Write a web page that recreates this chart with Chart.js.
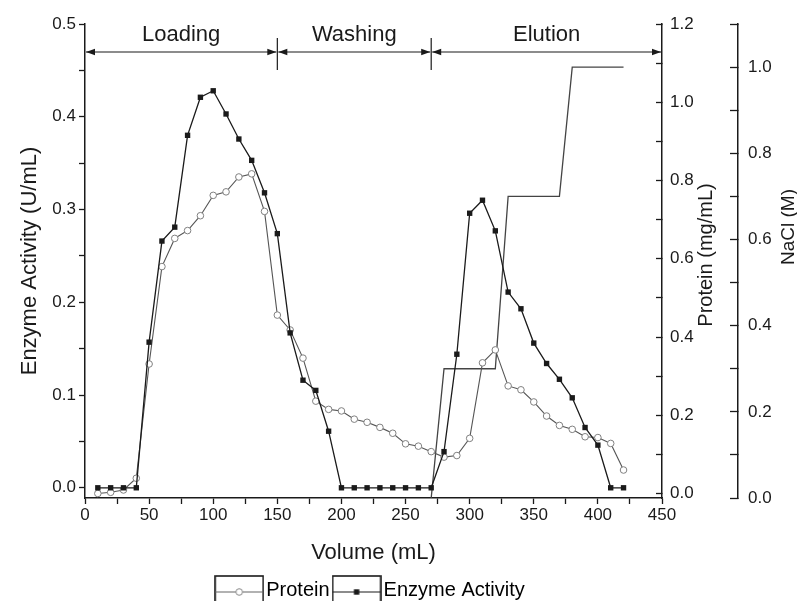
<!DOCTYPE html>
<html lang="en">
<head>
  <meta charset="UTF-8">
  <title>Enzyme Activity / Protein / NaCl vs Volume</title>
  <script src="https://cdn.jsdelivr.net/npm/chart.js@4.4.1/dist/chart.umd.min.js"></script>
  <style>
    html, body { margin: 0; padding: 0; background: #fff; }
    canvas { display: block; }
  </style>
</head>
<body>
  <canvas id="grafica" width="797" height="601"></canvas>

  <script>
    // fracciones recogidas (mL)
    const volumes = [10, 20, 30, 40, 50, 60, 70, 80, 90, 100, 110, 120, 130, 140,
                     150, 160, 170, 180, 190, 200, 210, 220, 230, 240, 250, 260, 270, 280,
                     290, 300, 310, 320, 330, 340, 350, 360, 370, 380, 390, 400, 410, 420];

    // actividad enzimática (U/mL), eje izquierdo
    const enzymeActivity = [0, 0, 0, 0, 0.157, 0.266, 0.281, 0.380, 0.421, 0.428, 0.403, 0.376, 0.353, 0.318,
                            0.274, 0.167, 0.116, 0.105, 0.061, 0, 0, 0, 0, 0, 0, 0, 0, 0.039,
                            0.144, 0.296, 0.310, 0.277, 0.211, 0.193, 0.156, 0.134, 0.117, 0.097, 0.065, 0.046, 0, 0];

    // proteína (mg/mL), primer eje derecho
    const protein = [0.0, 0.003, 0.009, 0.039, 0.331, 0.580, 0.652, 0.672, 0.710, 0.762, 0.771, 0.809, 0.817, 0.721,
                     0.456, 0.418, 0.346, 0.236, 0.215, 0.211, 0.190, 0.182, 0.169, 0.154, 0.127, 0.121, 0.107, 0.093,
                     0.097, 0.141, 0.334, 0.367, 0.275, 0.265, 0.234, 0.198, 0.174, 0.164, 0.145, 0.143, 0.128, 0.060];

    // gradiente escalonado de NaCl (M), segundo eje derecho
    const naclVolumes = [270, 280, 320, 330, 370, 380, 420];
    const naclConc = [0, 0.3, 0.3, 0.7, 0.7, 1.0, 1.0];

    // etapas de la cromatografía
    const phaseNames = ['Loading', 'Washing', 'Elution'];
    const phaseLimits = [0, 150, 270, 450];

    // marcas de los ejes (mayores con etiqueta, menores sin ella)
    const xMajor = [0, 50, 100, 150, 200, 250, 300, 350, 400, 450];
    const xMinor = [25, 75, 125, 175, 225, 275, 325, 375, 425];
    const enzMajor = [0, 0.1, 0.2, 0.3, 0.4, 0.5];
    const enzMinor = [0.05, 0.15, 0.25, 0.35, 0.45];
    const protMajor = [0, 0.2, 0.4, 0.6, 0.8, 1.0, 1.2];
    const protMinor = [0.1, 0.3, 0.5, 0.7, 0.9, 1.1];
    const naclMajor = [0, 0.2, 0.4, 0.6, 0.8, 1.0];
    const naclMinor = [0.1, 0.3, 0.5, 0.7, 0.9, 1.1];

    const legendNames = ['Protein', 'Enzyme Activity'];

    const INK = '#1a1a1a';
    const FONT = "'Liberation Sans', Arial, sans-serif";

    // pone las marcas a mano y sólo etiqueta las mayores
    function marcas(major, minor, decimals) {
      return {
        afterBuildTicks: scale => {
          scale.ticks = major.concat(minor).sort((a, b) => a - b).map(v => ({ value: v }));
        },
        callback: v => major.includes(v) ? (decimals ? v.toFixed(decimals) : String(v)) : ''
      };
    }

    // icono de leyenda: caja con línea y marcador
    function iconoLeyenda(tipo) {
      const c = document.createElement('canvas');
      c.width = 50;
      c.height = 30;
      const g = c.getContext('2d');
      g.strokeStyle = INK;
      g.lineWidth = 1.6;
      g.strokeRect(1, 1, 48, 40);
      g.lineWidth = 1.1;
      g.strokeStyle = tipo === 'circle' ? '#666' : INK;
      g.beginPath();
      g.moveTo(1, 17);
      g.lineTo(49, 17);
      g.stroke();
      if (tipo === 'circle') {
        g.fillStyle = '#fff';
        g.strokeStyle = '#888';
        g.lineWidth = 1;
        g.beginPath();
        g.arc(25, 17, 3.3, 0, Math.PI * 2);
        g.fill();
        g.stroke();
      } else {
        g.fillStyle = INK;
        g.fillRect(22.3, 14.3, 5.4, 5.4);
      }
      return c;
    }
    const legendIcons = [iconoLeyenda('circle'), iconoLeyenda('rect')];

    // flechas de las etapas y títulos de los ejes derechos
    const anotaciones = {
      id: 'anotaciones',
      afterDraw(chart) {
        const { ctx, chartArea, scales } = chart;
        const xs = phaseLimits.map(v => scales.x.getPixelForValue(v));
        const yArrow = chartArea.top + 28;
        ctx.save();
        ctx.strokeStyle = INK;
        ctx.fillStyle = INK;
        ctx.lineWidth = 1.2;

        for (let i = 1; i < xs.length - 1; i++) {
          ctx.beginPath();
          ctx.moveTo(xs[i], yArrow - 14);
          ctx.lineTo(xs[i], yArrow + 18);
          ctx.stroke();
        }

        const punta = (x, dir) => {
          ctx.beginPath();
          ctx.moveTo(x, yArrow);
          ctx.lineTo(x - dir * 9, yArrow - 3.2);
          ctx.lineTo(x - dir * 9, yArrow + 3.2);
          ctx.closePath();
          ctx.fill();
        };

        ctx.font = '22px ' + FONT;
        ctx.textAlign = 'center';
        ctx.textBaseline = 'middle';
        for (let i = 0; i < phaseNames.length; i++) {
          const a = xs[i] + 1, b = xs[i + 1] - 1;
          ctx.beginPath();
          ctx.moveTo(a, yArrow);
          ctx.lineTo(b, yArrow);
          ctx.stroke();
          punta(a, -1);
          punta(b, 1);
          ctx.fillText(phaseNames[i], (xs[i] + xs[i + 1]) / 2, chartArea.top + 11);
        }

        // títulos de los ejes derechos, leídos de abajo arriba
        const titulo = (texto, x, y, size) => {
          ctx.save();
          ctx.translate(x, y);
          ctx.rotate(-Math.PI / 2);
          ctx.font = size + 'px ' + FONT;
          ctx.fillText(texto, 0, 0);
          ctx.restore();
        };
        const midY = (chartArea.top + chartArea.bottom) / 2;
        titulo('Protein (mg/mL)', scales.yP.left + 44, midY - 6, 20);
        titulo('NaCl (M)', scales.yN.left + 51, midY - 34, 19);
        ctx.restore();
      }
    };

    const tickFont = { family: FONT, size: 17 };
    const ejeBorde = { display: true, color: INK, width: 1.5 };

    // el padding de las etiquetas no debe empujar el área del gráfico
    const ajustarEje = ancho => s => {
      s.width = ancho;
      s.paddingTop = 10;
      s.paddingBottom = 10;
    };

    const ctx = document.getElementById('grafica').getContext('2d');
    new Chart(ctx, {
      type: 'line',
      data: {
        datasets: [
          {
            label: 'Enzyme Activity',
            data: volumes.map((v, i) => ({ x: v, y: enzymeActivity[i] })),
            yAxisID: 'y',
            borderColor: INK,
            borderWidth: 1.3,
            pointStyle: 'rect',
            pointRadius: 3.8,
            pointBackgroundColor: INK,
            pointBorderWidth: 0,
            tension: 0
          },
          {
            label: 'Protein',
            data: volumes.map((v, i) => ({ x: v, y: protein[i] })),
            yAxisID: 'yP',
            borderColor: '#555',
            borderWidth: 1.1,
            pointStyle: 'circle',
            pointRadius: 3.3,
            pointBackgroundColor: '#fff',
            pointBorderColor: '#808080',
            pointBorderWidth: 1,
            tension: 0
          },
          {
            label: 'NaCl',
            data: naclVolumes.map((v, i) => ({ x: v, y: naclConc[i] })),
            yAxisID: 'yN',
            borderColor: '#444',
            borderWidth: 1.3,
            pointRadius: 0,
            tension: 0
          }
        ]
      },
      options: {
        responsive: false,
        animation: false,
        devicePixelRatio: 1,
        layout: { padding: { top: 24, left: 0, right: 0, bottom: -9 } },
        scales: {
          x: {
            type: 'linear',
            min: 0,
            max: 450,
            afterBuildTicks: marcas(xMajor, xMinor, 0).afterBuildTicks,
            afterFit: s => { s.height = 72; },
            ticks: { callback: marcas(xMajor, xMinor, 0).callback, autoSkip: false, maxRotation: 0, padding: 1, color: INK, font: tickFont },
            grid: { drawOnChartArea: false, tickLength: 6, tickColor: INK, tickWidth: 1.3 },
            border: ejeBorde,
            title: { display: true, text: 'Volume (mL)', color: INK, font: { family: FONT, size: 22 }, padding: { top: 0, bottom: 4 } }
          },
          y: {
            type: 'linear',
            position: 'left',
            min: -0.011,
            max: 0.5,
            afterBuildTicks: marcas(enzMajor, enzMinor, 1).afterBuildTicks,
            afterFit: ajustarEje(85),
            ticks: { callback: marcas(enzMajor, enzMinor, 1).callback, autoSkip: false, padding: 3, color: INK, font: tickFont },
            grid: { drawOnChartArea: false, tickLength: 6, tickColor: INK, tickWidth: 1.3 },
            border: ejeBorde,
            title: { display: true, text: 'Enzyme Activity (U/mL)', color: INK, font: { family: FONT, size: 22 }, padding: { top: 17, bottom: 0 } }
          },
          yP: {
            type: 'linear',
            position: 'right',
            weight: 0,
            min: -0.0115,
            max: 1.2,
            afterBuildTicks: marcas(protMajor, protMinor, 1).afterBuildTicks,
            afterFit: ajustarEje(76),
            ticks: { callback: marcas(protMajor, protMinor, 1).callback, autoSkip: false, padding: 14, color: INK, font: tickFont },
            grid: { drawOnChartArea: false, tickLength: -6, tickColor: INK, tickWidth: 1.3 },
            border: ejeBorde
          },
          yN: {
            type: 'linear',
            position: 'right',
            weight: 1,
            min: 0,
            max: 1.1,
            afterBuildTicks: marcas(naclMajor, naclMinor, 1).afterBuildTicks,
            afterFit: ajustarEje(59),
            ticks: { callback: marcas(naclMajor, naclMinor, 1).callback, autoSkip: false, padding: 18, color: INK, font: tickFont },
            grid: { drawOnChartArea: false, tickLength: -8, tickColor: INK, tickWidth: 1.3 },
            border: ejeBorde
          }
        },
        plugins: {
          tooltip: { enabled: false },
          legend: {
            position: 'bottom',
            fullSize: false,
            labels: {
              usePointStyle: true,
              pointStyleWidth: 34,
              padding: 10,
              color: INK,
              font: { family: FONT, size: 20 },
              generateLabels: () => legendNames.map((nombre, i) => ({
                text: nombre,
                pointStyle: legendIcons[i],
                fillStyle: 'transparent',
                strokeStyle: 'transparent',
                lineWidth: 0,
                hidden: false,
                datasetIndex: i
              }))
            }
          }
        }
      },
      plugins: [anotaciones]
    });
  </script>
</body>
</html>
